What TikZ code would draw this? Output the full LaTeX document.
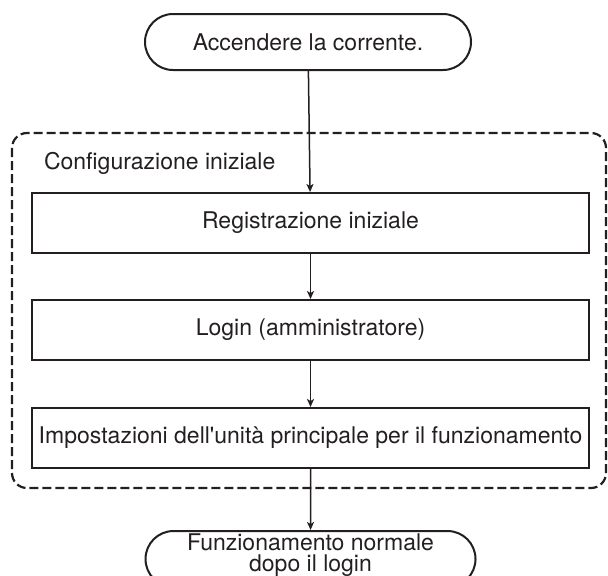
\documentclass[tikz,border=0pt]{standalone}
\usepackage{fontspec}
\setmainfont{TeX Gyre Heros}
\usetikzlibrary{positioning,shapes.misc,arrows.meta}
\definecolor{ink}{HTML}{231F20}

\begin{document}
\begin{tikzpicture}[
    x=1pt, y=1pt,
    node distance=22.5pt,
    every node/.style={font=\fontsize{11.5}{10.5}\selectfont, text=ink},
    terminal/.style={draw=ink, line width=1pt, rounded rectangle,
        minimum width=165pt, minimum height=28pt, inner sep=1pt, align=center},
    stepbox/.style={draw=ink, line width=1pt, rectangle,
        minimum width=278.5pt, minimum height=30pt, inner sep=1pt},
    group/.style={draw=ink, line width=1.1pt, dash pattern=on 4.5pt off 2pt,
        rounded corners=7.5pt},
    flow/.style={draw=ink, line width=0.75pt,
        -{Stealth[length=4pt, width=3.5pt, inset=1pt]}}
]
\useasboundingbox (0,0) rectangle (304,-287.5);

% start and end of the flow
\node[terminal] (power) at (154,-21) {Accendere la corrente.};
\node[stepbox, below=60.5pt of power.south, anchor=north, xshift=1.25pt] (register) {Registrazione iniziale};
\node[stepbox, below=of register] (login) {Login (amministratore)};
\node[stepbox, below=23pt of login] (settings) {Impostazioni dell\textquotesingle unità principale per il funzionamento};
\node[terminal, minimum width=167pt, text depth=6pt, below=30.5pt of settings.south, anchor=north] (normal)
    {Funzionamento normale\\dopo il login};

% initial setup group
\draw[group] (6,-66.5) rectangle (303,-244);
\node[anchor=west] (grouptitle) at (18.5,-81.5) {Configurazione iniziale};

\draw[flow] (power) -- (register);
\draw[flow] (register) -- (login);
\draw[flow] (login) -- (settings);
\draw[flow] (settings) -- (normal);
\end{tikzpicture}
\end{document}
